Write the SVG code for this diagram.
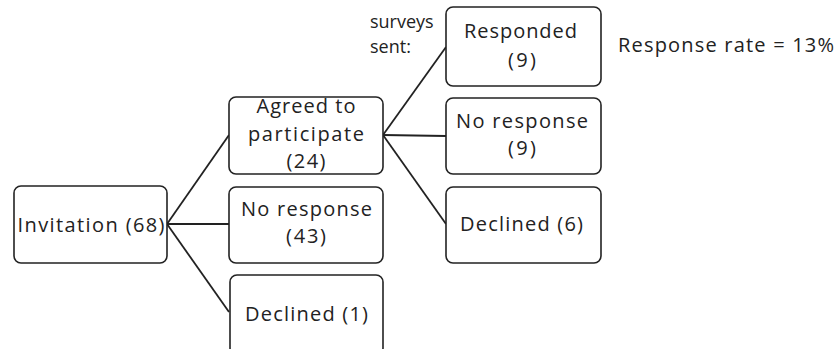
<svg xmlns="http://www.w3.org/2000/svg" width="840" height="349" viewBox="0 0 840 349">
<style>
.box{fill:#fff;stroke:#222;stroke-width:1.6}
.t{font-family:"Open Sans","Liberation Sans",sans-serif;font-size:20px;fill:#222;text-anchor:middle}
.l{font-family:"Open Sans","Liberation Sans",sans-serif;font-size:20px;fill:#222}
.s{font-family:"Open Sans","Liberation Sans",sans-serif;font-size:18px;fill:#222}
.c{stroke:#222;stroke-width:1.8;fill:none}
</style>
<rect width="840" height="349" fill="#fff"/>
<g id="connectors">
<line class="c" x1="167" y1="224" x2="229" y2="135"/>
<line class="c" x1="167" y1="224" x2="229" y2="224"/>
<line class="c" x1="167" y1="224" x2="229" y2="312"/>
<line class="c" x1="383" y1="135" x2="446" y2="47"/>
<line class="c" x1="383" y1="135" x2="446" y2="136"/>
<line class="c" x1="383" y1="135" x2="446" y2="224"/>
</g>
<g id="invitation">
<rect class="box" x="14" y="186" width="153" height="77" rx="7"/>
<text class="t" x="91" y="232" textLength="147" lengthAdjust="spacing">Invitation (68)</text>
</g>
<g id="agreed">
<rect class="box" x="229" y="97" width="154" height="77" rx="7"/>
<text class="t" x="306" y="113" textLength="99" lengthAdjust="spacing">Agreed to</text>
<text class="t" x="306" y="141" textLength="116" lengthAdjust="spacing">participate</text>
<text class="t" x="306" y="168" textLength="39" lengthAdjust="spacing">(24)</text>
</g>
<g id="noresponse1">
<rect class="box" x="229" y="187" width="154" height="76" rx="7"/>
<text class="t" x="306.5" y="216" textLength="131" lengthAdjust="spacing">No response</text>
<text class="t" x="306" y="243" textLength="40" lengthAdjust="spacing">(43)</text>
</g>
<g id="declined1">
<rect class="box" x="230" y="275" width="153" height="80" rx="7"/>
<text class="t" x="306.5" y="321" textLength="123" lengthAdjust="spacing">Declined (1)</text>
</g>
<g id="responded">
<rect class="box" x="446" y="7" width="155" height="79" rx="7"/>
<text class="t" x="520.5" y="38" textLength="113" lengthAdjust="spacing">Responded</text>
<text class="t" x="522" y="67" textLength="28" lengthAdjust="spacing">(9)</text>
</g>
<g id="noresponse2">
<rect class="box" x="446" y="98" width="155" height="76" rx="7"/>
<text class="t" x="522" y="128" textLength="132" lengthAdjust="spacing">No response</text>
<text class="t" x="522" y="155" textLength="28" lengthAdjust="spacing">(9)</text>
</g>
<g id="declined2">
<rect class="box" x="446" y="187" width="155" height="76" rx="7"/>
<text class="t" x="521.5" y="231" textLength="123" lengthAdjust="spacing">Declined (6)</text>
</g>
<g id="labels">
<text class="s" x="370" y="28">surveys</text>
<text class="s" x="370" y="53">sent:</text>
<text class="l" x="618" y="52" textLength="216" lengthAdjust="spacing">Response rate = 13%</text>
</g>
</svg>
